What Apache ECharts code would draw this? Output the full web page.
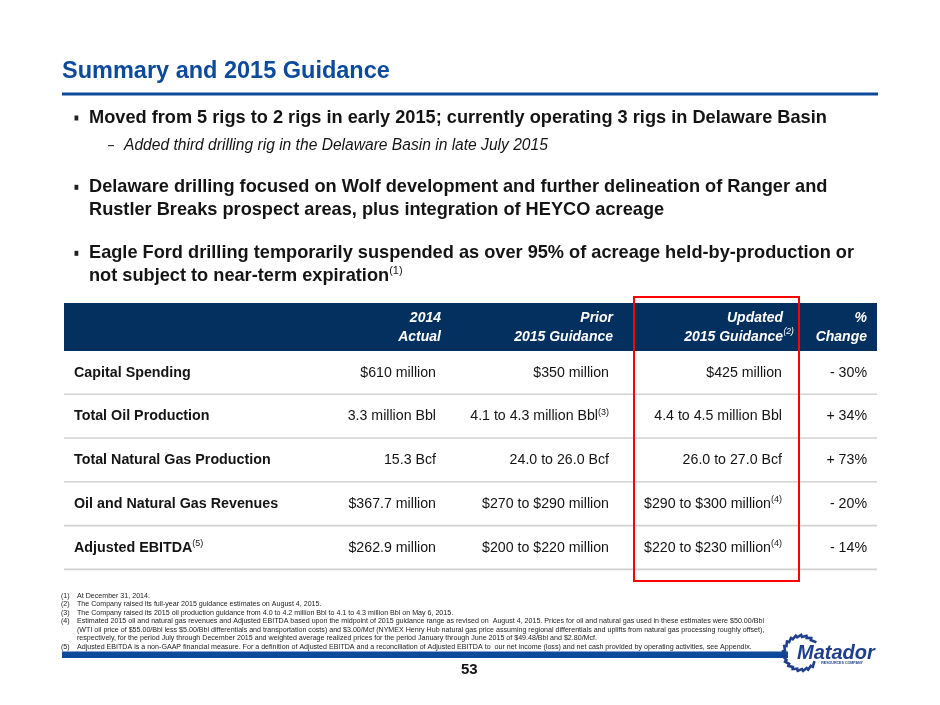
<!DOCTYPE html>
<html>
<head>
<meta charset="utf-8">
<script src="https://cdn.jsdelivr.net/npm/echarts@6/dist/echarts.min.js"></script>
<style>
  html, body { margin: 0; padding: 0; background: #fff; }
  #main { width: 940px; height: 705px; }
</style>
</head>
<body>
<div id="main"></div>
<script>
// slide data
const slideTitle = "Summary and 2015 Guidance";
const bulletLines = [
  ["Moved from 5 rigs to 2 rigs in early 2015; currently operating 3 rigs in Delaware Basin"],
  ["Delaware drilling focused on Wolf development and further delineation of Ranger and",
   "Rustler Breaks prospect areas, plus integration of HEYCO acreage"],
  ["Eagle Ford drilling temporarily suspended as over 95% of acreage held-by-production or",
   "not subject to near-term expiration"]
];
const bulletNotes = ["", "", "(1)"];
const subBullet = "Added third drilling rig in the Delaware Basin in late July 2015";

const columnTop = ["2014", "Prior", "Updated", "%"];
const columnBottom = ["Actual", "2015 Guidance", "2015 Guidance", "Change"];
const columnNotes = ["", "", "(2)", ""];

const rowLabels = ["Capital Spending", "Total Oil Production", "Total Natural Gas Production",
  "Oil and Natural Gas Revenues", "Adjusted EBITDA"];
const rowNotes = ["", "", "", "", "(5)"];
const actual2014 = ["$610 million", "3.3 million Bbl", "15.3 Bcf", "$367.7 million", "$262.9 million"];
const prior2015 = ["$350 million", "4.1 to 4.3 million Bbl", "24.0 to 26.0 Bcf", "$270 to $290 million", "$200 to $220 million"];
const prior2015Notes = ["", "(3)", "", "", ""];
const updated2015 = ["$425 million", "4.4 to 4.5 million Bbl", "26.0 to 27.0 Bcf", "$290 to $300 million", "$220 to $230 million"];
const updated2015Notes = ["", "", "", "(4)", "(4)"];
const pctChange = ["- 30%", "+ 34%", "+ 73%", "- 20%", "- 14%"];

const footnoteMarks = ["(1)", "(2)", "(3)", "(4)", "", "", "(5)"];
const footnoteLines = [
  "At December 31, 2014.",
  "The Company raised its full-year 2015 guidance estimates on August 4, 2015.",
  "The Company raised its 2015 oil production guidance from 4.0 to 4.2 million Bbl to 4.1 to 4.3 million Bbl on May 6, 2015.",
  "Estimated 2015 oil and natural gas revenues and Adjusted EBITDA based upon the midpoint of 2015 guidance range as revised on  August 4, 2015. Prices for oil and natural gas used in these estimates were $50.00/Bbl",
  "(WTI oil price of $55.00/Bbl less $5.00/Bbl differentials and transportation costs) and $3.00/Mcf (NYMEX Henry Hub natural gas price assuming regional differentials and uplifts from natural gas processing roughly offset),",
  "respectively, for the period July through December 2015 and weighted average realized prices for the period January through June 2015 of $49.48/Bbl and $2.80/Mcf.",
  "Adjusted EBITDA is a non-GAAP financial measure. For a definition of Adjusted EBITDA and a reconciliation of Adjusted EBITDA to  our net income (loss) and net cash provided by operating activities, see Appendix."
];
const pageNumber = "53";

const FONT = '"Liberation Sans", Arial, Helvetica, sans-serif';
const BLUE = "#0c4a9b";
const NAVY = "#04305f";
const INK = "#141414";
const LOGO = "#1f3f8c";

function txt(x, y, text, o) {
  o = o || {};
  return {
    type: "text", x: x, y: y, z: o.z || 10,
    style: {
      text: text,
      fill: o.fill || INK,
      fontFamily: FONT,
      fontSize: o.size || 14,
      fontWeight: o.weight || "normal",
      fontStyle: o.italic ? "italic" : "normal",
      align: o.align || "left",
      verticalAlign: "middle",
      rich: o.rich
    }
  };
}

// main text + superscript note, rendered as rich text
function withNote(main, note, size, weight, italic, fill) {
  const s = { fontFamily: FONT, fontSize: size, fontWeight: weight, fontStyle: italic ? "italic" : "normal",
    fill: fill, lineHeight: size + 3, verticalAlign: "middle" };
  const sp = { fontFamily: FONT, fontSize: Math.round(size * 0.62), fontWeight: "normal",
    fontStyle: italic ? "italic" : "normal", fill: fill, lineHeight: 8, verticalAlign: "top" };
  return { text: note ? "{m|" + main + "}{s|" + note + "}" : "{m|" + main + "}", rich: { m: s, s: sp } };
}

const els = [];

// title + rule
els.push(txt(62, 72, slideTitle, { size: 23.5, weight: "bold", fill: BLUE }));
els.push({ type: "rect", shape: { x: 62, y: 92.5, width: 816, height: 3 }, style: { fill: BLUE } });

// bullets
const bulletSize = 18.2;
const bulletY = [[118], [187.3, 209.6], [253.3, 275.6]];
bulletLines.forEach(function (lines, i) {
  els.push({ type: "rect", shape: { x: 74.5, y: bulletY[i][0] - 2.5, width: 3.8, height: 5 }, style: { fill: "#222" } });
  lines.forEach(function (ln, j) {
    const last = j === lines.length - 1;
    const r = withNote(ln, last ? bulletNotes[i] : "", bulletSize, "bold", false, INK);
    els.push(txt(89, bulletY[i][j], r.text, { rich: r.rich, size: bulletSize, weight: "bold" }));
  });
});
els.push({ type: "rect", shape: { x: 108, y: 145, width: 6, height: 1.2 }, style: { fill: "#333" } });
els.push(txt(124, 145.5, subBullet, { size: 15.6, italic: true }));

// table header
const tLeft = 64, tRight = 877;
els.push({ type: "rect", shape: { x: tLeft, y: 303, width: tRight - tLeft, height: 48 }, style: { fill: NAVY } });
const headRight = [441, 613, 783, 867];
columnTop.forEach(function (h, c) {
  els.push(txt(headRight[c], 317.7, h, { size: 14, weight: "bold", italic: true, fill: "#fff", align: "right" }));
  els.push(txt(headRight[c], 336.7, columnBottom[c], { size: 14, weight: "bold", italic: true, fill: "#fff", align: "right" }));
  if (columnNotes[c]) {
    els.push(txt(headRight[c] + 0.5, 332, columnNotes[c], { size: 8.5, italic: true, fill: "#fff" }));
  }
});

// table body
const rowPitch = 43.8, firstRowY = 372.7;
const colRight = [436, 609, 782, 867];
const cols = [actual2014, prior2015, updated2015, pctChange];
const colNotes = [null, prior2015Notes, updated2015Notes, null];
rowLabels.forEach(function (lab, r) {
  const y = firstRowY + r * rowPitch;
  const lr = withNote(lab, rowNotes[r], 14.3, "bold", false, INK);
  els.push(txt(74, y, lr.text, { rich: lr.rich, size: 14.3, weight: "bold" }));
  cols.forEach(function (col, c) {
    const note = colNotes[c] ? colNotes[c][r] : "";
    const cr = withNote(col[r], note, 14.2, "normal", false, INK);
    els.push(txt(colRight[c], y, cr.text, { rich: cr.rich, size: 14.2, align: "right" }));
  });
  els.push({ type: "line", shape: { x1: tLeft, y1: y + 21.5, x2: tRight, y2: y + 21.5 },
    style: { stroke: "#d2d2d2", lineWidth: 1.6 } });
});

// red highlight box
els.push({ type: "rect", z: 20, shape: { x: 634, y: 297, width: 165, height: 284 },
  style: { fill: "none", stroke: "#ff0000", lineWidth: 2 } });

// footnotes
const fnY0 = 596, fnStep = 8.5;
footnoteLines.forEach(function (ln, i) {
  const y = fnY0 + i * fnStep;
  if (footnoteMarks[i]) els.push(txt(61, y, footnoteMarks[i], { size: 7.1, fill: "#222" }));
  els.push(txt(77, y, ln, { size: 7.1, fill: "#222" }));
});

// bottom band + page number
els.push({ type: "rect", shape: { x: 62, y: 651.5, width: 726, height: 6.5 }, style: { fill: "#0d4a9c" } });
els.push(txt(461, 670, pageNumber, { size: 15, weight: "bold", fill: "#111" }));

// logo: ring of dashes + wordmark
const lcx = 801, lcy = 653, lr = 17;
for (let a = 45; a <= 320; a += 17) {
  const rad = a * Math.PI / 180;
  els.push({ type: "rect", x: lcx + lr * Math.cos(rad), y: lcy - lr * Math.sin(rad), z: 12,
    rotation: rad + 0.45, shape: { x: -1.3, y: -3.6, width: 2.6, height: 7.2 }, style: { fill: LOGO } });
}
els.push(txt(797, 653, "Matador", { size: 20, weight: "bold", italic: true, fill: LOGO, z: 13 }));
els.push(txt(863, 662.5, "RESOURCES COMPANY", { size: 3.6, weight: "bold", fill: LOGO, align: "right" }));

const chart = echarts.init(document.getElementById("main"));
chart.setOption({
  backgroundColor: "#fff",
  animation: false,
  graphic: { elements: els }
});
</script>
</body>
</html>
